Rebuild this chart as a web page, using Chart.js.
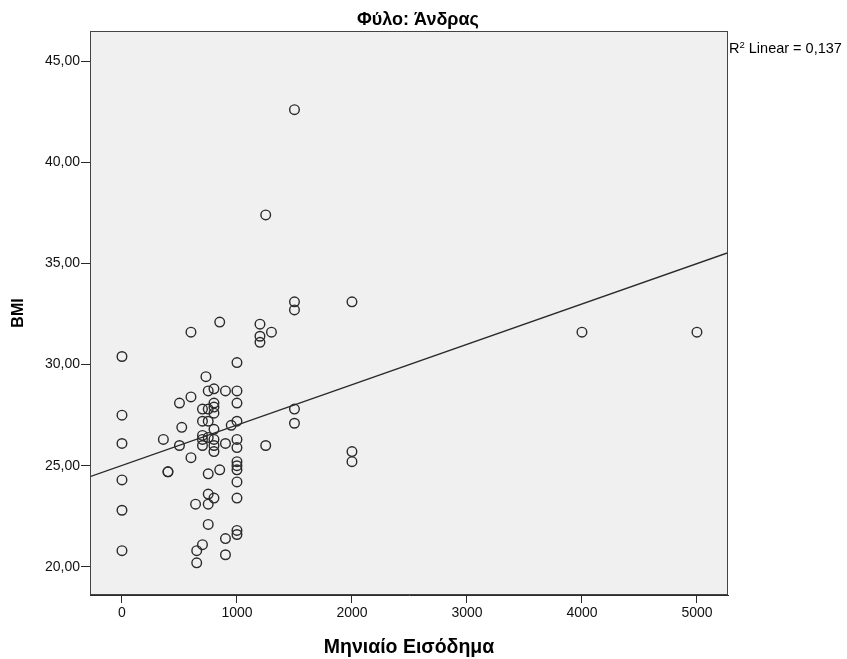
<!DOCTYPE html>
<html lang="el">
<head>
    <meta charset="UTF-8">
    <title>BMI - Μηνιαίο Εισόδημα</title>
    <script src="https://cdn.jsdelivr.net/npm/chart.js"></script>
    <style>
        html, body { margin: 0; padding: 0; background: #ffffff; }
        #wrap { width: 847px; height: 659px; }
    </style>
</head>
<body>
<div id="wrap"><canvas id="scatter" width="847" height="659"></canvas></div>

<script>
    // Μηνιαίο Εισόδημα (x) και BMI (y) για κάθε άνδρα
    const income = [
        0, 0, 0, 0, 0, 0,
        360, 400, 400, 500, 500, 520,
        600, 600, 600, 640, 650, 650,
        700, 700, 700, 700, 700, 700, 730,
        750, 750, 750, 750, 750, 750, 750, 750,
        800, 800, 800, 800, 800, 800, 800, 800, 800,
        850, 850, 900, 900, 900, 900, 950,
        1000, 1000, 1000, 1000, 1000, 1000, 1000, 1000, 1000, 1000, 1000, 1000, 1000,
        1200, 1200, 1200, 1250, 1250, 1300,
        1500, 1500, 1500, 1500, 1500,
        2000, 2000, 2000, 4000, 5000
    ];
    const bmi = [
        30.4, 27.5, 26.1, 24.3, 22.8, 20.8,
        26.3, 24.7, 24.7, 28.1, 26.0, 26.9,
        31.6, 28.4, 25.4, 23.1, 20.8, 20.2,
        27.8, 27.2, 26.5, 26.3, 26.0, 21.1, 29.4,
        28.7, 27.8, 27.2, 26.4, 24.6, 23.6, 23.1, 22.1,
        28.8, 28.1, 27.9, 27.6, 26.8, 26.3, 26.0, 25.7, 23.4,
        32.1, 24.8, 28.7, 26.1, 21.4, 20.6, 27.0,
        30.1, 28.7, 28.1, 27.2, 26.3, 25.9, 25.2, 25.0, 24.8, 24.2, 23.4, 21.8, 21.6,
        32.0, 31.4, 31.1, 37.4, 26.0, 31.6,
        42.6, 33.1, 32.7, 27.8, 27.1,
        33.1, 25.7, 25.2, 31.6, 31.6
    ];

    // γραμμή προσαρμογής (άκρα όπως διαβάζονται στο γράφημα)
    const fitX = [-278, 5270];
    const fitY = [24.46, 35.53];

    const xTicks = [0, 1000, 2000, 3000, 4000, 5000];
    const yTicks = [20, 25, 30, 35, 40, 45];
    const yTickLabels = ['20,00', '25,00', '30,00', '35,00', '40,00', '45,00'];

    const chartTitle = 'Φύλο: Άνδρας';
    const xTitle = 'Μηνιαίο Εισόδημα';
    const yTitle = 'BMI';
    const r2Text = ' Linear = 0,137';

    const points = income.map((v, i) => ({ x: v, y: bmi[i] }));
    const fitLine = fitX.map((v, i) => ({ x: v, y: fitY[i] }));

    const dark = '#2a2a2a';
    const fontFam = 'Arial, "Liberation Sans", sans-serif';

    const framePlugin = {
        id: 'frame',
        beforeDatasetsDraw(chart) {
            const a = chart.chartArea, c = chart.ctx;
            c.save();
            c.fillStyle = '#f0f0f0';
            c.fillRect(a.left, a.top, a.right - a.left, a.bottom - a.top);
            c.restore();
        },
        afterDraw(chart) {
            const a = chart.chartArea, c = chart.ctx;
            c.save();
            c.strokeStyle = '#444';
            c.lineWidth = 1;
            c.strokeRect(a.left + 0.5, a.top + 0.5, a.right - a.left - 1, a.bottom - a.top - 1);

            c.fillStyle = '#000';
            c.font = 'bold 18px ' + fontFam;
            c.textAlign = 'center';
            c.textBaseline = 'alphabetic';
            c.fillText(chartTitle, 418, 25);

            // R² Linear
            c.textAlign = 'left';
            c.font = '14.5px ' + fontFam;
            const x0 = a.right + 1, y0 = 53;
            c.fillText('R', x0, y0);
            const rw = c.measureText('R').width;
            c.font = '9.5px ' + fontFam;
            c.fillText('2', x0 + rw, y0 - 5);
            const sw = c.measureText('2').width;
            c.font = '14.5px ' + fontFam;
            c.fillText(r2Text, x0 + rw + sw, y0);
            c.restore();
        }
    };

    new Chart(document.getElementById('scatter'), {
        type: 'scatter',
        data: {
            datasets: [{
                label: 'BMI',
                data: points,
                pointStyle: 'circle',
                pointRadius: 4.8,
                pointBorderWidth: 1.4,
                pointBorderColor: dark,
                pointBackgroundColor: 'rgba(0,0,0,0)',
                order: 2
            }, {
                type: 'line',
                label: 'Linear',
                data: fitLine,
                borderColor: dark,
                borderWidth: 1.3,
                pointRadius: 0,
                fill: false,
                order: 1
            }]
        },
        plugins: [framePlugin],
        options: {
            responsive: false,
            animation: false,
            layout: { padding: { left: 0, top: 31, right: 119, bottom: 0 } },
            plugins: {
                legend: { display: false },
                tooltip: { enabled: false }
            },
            scales: {
                x: {
                    type: 'linear',
                    min: fitX[0],
                    max: fitX[1],
                    afterBuildTicks: s => { s.ticks = xTicks.map(v => ({ value: v })); },
                    afterFit: s => { s.height = 64; },
                    grid: { drawOnChartArea: false, drawTicks: true, tickLength: 8, color: dark },
                    border: { display: true, color: dark },
                    ticks: { color: '#111', font: { family: fontFam, size: 14 }, padding: 2, maxRotation: 0, callback: v => String(v) },
                    title: { display: true, text: xTitle, color: '#000', font: { family: fontFam, size: 19.5, weight: 'bold' }, padding: { top: 4, bottom: 0 } }
                },
                y: {
                    type: 'linear',
                    min: 18.61,
                    max: 46.49,
                    afterBuildTicks: s => { s.ticks = yTicks.map(v => ({ value: v })); },
                    afterFit: s => { s.width = 90; },
                    grid: { drawOnChartArea: false, drawTicks: true, tickLength: 9, color: dark },
                    border: { display: true, color: dark },
                    ticks: {
                        color: '#111',
                        font: { family: fontFam, size: 14 },
                        padding: 1,
                        callback: v => yTickLabels[yTicks.indexOf(v)]
                    },
                    title: { display: true, text: yTitle, color: '#000', font: { family: fontFam, size: 16, weight: 'bold' }, padding: { top: 9, bottom: 2 } }
                }
            }
        }
    });
</script>
</body>
</html>
